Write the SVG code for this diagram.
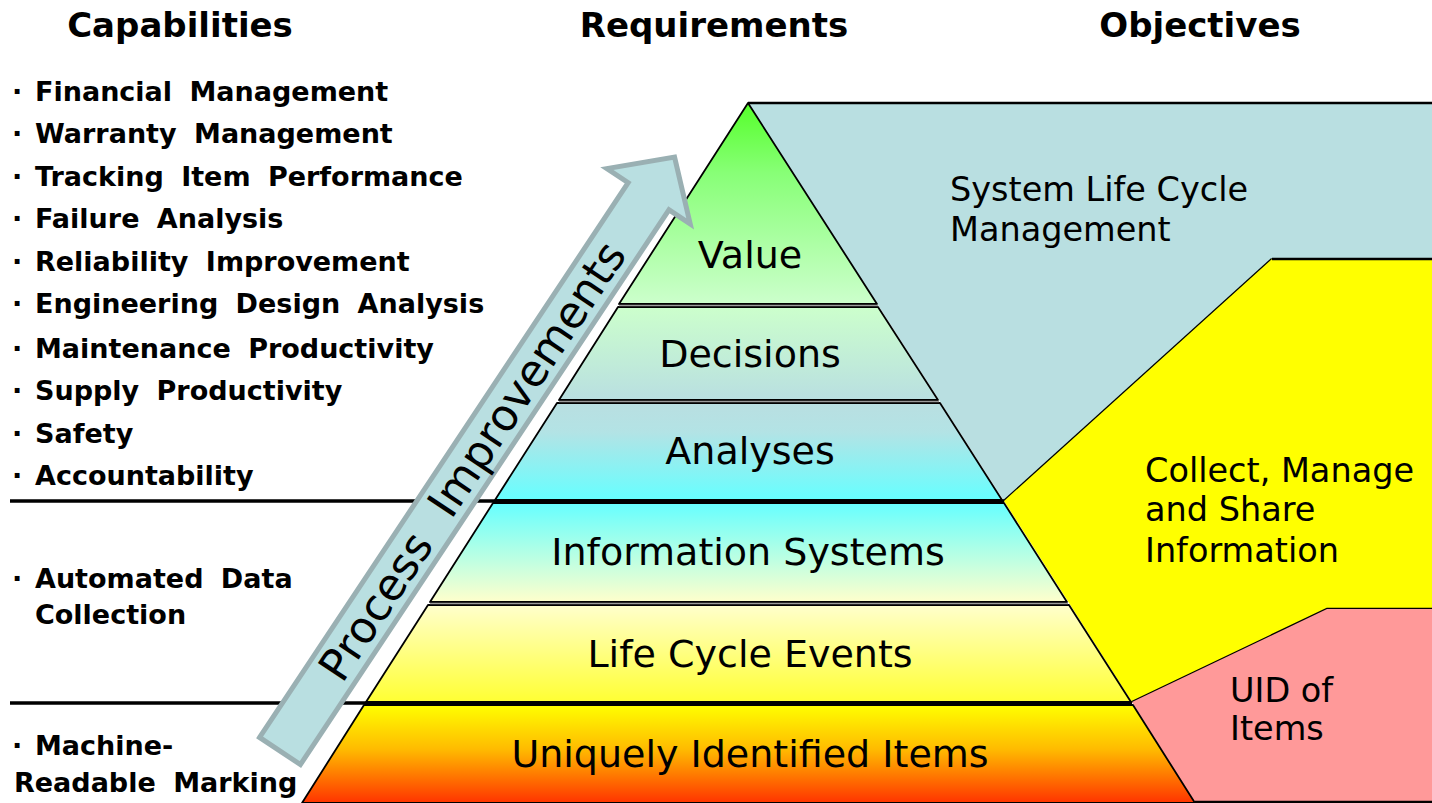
<svg xmlns="http://www.w3.org/2000/svg" width="1432" height="803" viewBox="0 0 1432 803">
<style>
.hdr{font-family:"DejaVu Sans",sans-serif;font-weight:bold;font-size:34px;fill:#000;text-anchor:middle}
.cap{font-family:"DejaVu Sans",sans-serif;font-weight:bold;font-size:27px;fill:#000;word-spacing:8px}
.lay{font-family:"DejaVu Sans",sans-serif;font-size:38px;fill:#000;text-anchor:middle}
.obj{font-family:"DejaVu Sans",sans-serif;font-size:33.5px;fill:#000}
.edge{stroke:#000;stroke-width:1.8;stroke-linejoin:round}
.rim{stroke:#000;stroke-width:2.4;fill:none}
.gap{stroke:#9a9a9a;stroke-width:1.5}
.thick{stroke:#000;stroke-width:3.5}
</style>
<defs>
<linearGradient id="gValue" x1="0" y1="0" x2="0" y2="1"><stop offset="0" stop-color="#55ff2a"/><stop offset="0.35" stop-color="#88ff77"/><stop offset="1" stop-color="#ccffcc"/></linearGradient>
<linearGradient id="gDec" x1="0" y1="0" x2="0" y2="1"><stop offset="0" stop-color="#ccffcc"/><stop offset="1" stop-color="#b9dfe1"/></linearGradient>
<linearGradient id="gAna" x1="0" y1="0" x2="0" y2="1"><stop offset="0" stop-color="#b9dfe1"/><stop offset="0.3" stop-color="#b3e3e5"/><stop offset="1" stop-color="#66ffff"/></linearGradient>
<linearGradient id="gInfo" x1="0" y1="0" x2="0" y2="1"><stop offset="0" stop-color="#66ffff"/><stop offset="1" stop-color="#ffffcc"/></linearGradient>
<linearGradient id="gLife" x1="0" y1="0" x2="0" y2="1"><stop offset="0" stop-color="#ffffcc"/><stop offset="1" stop-color="#ffff33"/></linearGradient>
<linearGradient id="gUID" x1="0" y1="0" x2="0" y2="1"><stop offset="0" stop-color="#ffff00"/><stop offset="0.45" stop-color="#ffbb00"/><stop offset="1" stop-color="#ff3300"/></linearGradient>
</defs>
<rect width="1432" height="803" fill="#fff"/>

<!-- headers -->
<g id="headers">
<text class="hdr" x="180" y="37">Capabilities</text>
<text class="hdr" x="714" y="37">Requirements</text>
<text class="hdr" x="1200" y="37">Objectives</text>
</g>

<!-- objective regions -->
<g id="obj-system">
<polygon points="748,103 1432,103 1432,259 1272,259 1004,501 748,103" fill="#b9dfe1"/>
<line class="rim" x1="748" y1="103" x2="1432" y2="103"/>
<line class="rim" x1="1272" y1="259" x2="1004" y2="501"/>
<text class="obj" x="950" y="201">System Life Cycle</text>
<text class="obj" x="950" y="241">Management</text>
</g>
<g id="obj-collect">
<polygon points="1004,501 1272,259 1432,259 1432,609 1327,609 1132,702" fill="#ffff00"/>
<line class="rim" x1="1272" y1="259" x2="1432" y2="259"/>
<polyline class="rim" points="1432,609 1327,609 1132,702"/>
<text class="obj" x="1145" y="482">Collect, Manage</text>
<text class="obj" x="1145" y="521">and Share</text>
<text class="obj" x="1145" y="562">Information</text>
</g>
<g id="obj-uid">
<polygon points="1132,702 1327,609 1432,609 1432,803 1195,803" fill="#ff9999"/>
<line class="rim" x1="1195" y1="802" x2="1432" y2="802"/>
<text class="obj" x="1230" y="702">UID of</text>
<text class="obj" x="1230" y="740">Items</text>
</g>

<!-- divider lines -->
<g id="dividers">
<line class="thick" x1="10" y1="501" x2="1004" y2="501"/>
<line class="thick" x1="10" y1="703" x2="1132" y2="703"/>
</g>

<!-- pyramid layers -->
<g id="layer-value">
<polygon class="edge" points="748,103 877,304 619,304" fill="url(#gValue)"/>
<text class="lay" x="750" y="268">Value</text>
</g>
<g id="layer-decisions">
<polygon class="edge" points="618,307 878,307 938,400 559,400" fill="url(#gDec)"/>
<text class="lay" x="750" y="367">Decisions</text>
</g>
<g id="layer-analyses">
<polygon class="edge" points="557,403 940,403 1002,500 495,500" fill="url(#gAna)"/>
<text class="lay" x="750" y="464">Analyses</text>
</g>
<g id="layer-info">
<polygon class="edge" points="493,503 1004,503 1067,602 430,602" fill="url(#gInfo)"/>
<text class="lay" x="748" y="565">Information Systems</text>
</g>
<g id="layer-life">
<polygon class="edge" points="428,605 1069,605 1131,702 366,702" fill="url(#gLife)"/>
<text class="lay" x="750" y="667">Life Cycle Events</text>
</g>
<g id="layer-uid">
<polygon class="edge" points="364,705 1133,705 1195,803 302,803" fill="url(#gUID)"/>
<text class="lay" x="750" y="767">Uniquely Identified Items</text>
</g>
<g id="layer-gaps">
<line class="gap" x1="619" y1="305.5" x2="878" y2="305.5"/>
<line class="gap" x1="559" y1="401.5" x2="939" y2="401.5"/>
<line class="gap" x1="430" y1="603.5" x2="1068" y2="603.5"/>
</g>

<!-- capabilities -->
<g id="capabilities">
<text class="cap" y="101"><tspan x="12">·</tspan><tspan x="35">Financial Management</tspan></text>
<text class="cap" y="143"><tspan x="12">·</tspan><tspan x="35">Warranty Management</tspan></text>
<text class="cap" y="186"><tspan x="12">·</tspan><tspan x="35">Tracking Item Performance</tspan></text>
<text class="cap" y="228"><tspan x="12">·</tspan><tspan x="35">Failure Analysis</tspan></text>
<text class="cap" y="271"><tspan x="12">·</tspan><tspan x="35">Reliability Improvement</tspan></text>
<text class="cap" y="313"><tspan x="12">·</tspan><tspan x="35">Engineering Design Analysis</tspan></text>
<text class="cap" y="358"><tspan x="12">·</tspan><tspan x="35">Maintenance Productivity</tspan></text>
<text class="cap" y="400"><tspan x="12">·</tspan><tspan x="35">Supply Productivity</tspan></text>
<text class="cap" y="443"><tspan x="12">·</tspan><tspan x="35">Safety</tspan></text>
<text class="cap" y="485"><tspan x="12">·</tspan><tspan x="35">Accountability</tspan></text>
<text class="cap" y="588"><tspan x="12">·</tspan><tspan x="35">Automated Data</tspan></text>
<text class="cap" x="35" y="624">Collection</text>
<text class="cap" y="755"><tspan x="12">·</tspan><tspan x="35">Machine-</tspan></text>
<text class="cap" x="14" y="792">Readable Marking</text>
</g>

<!-- process improvements arrow -->
<g id="arrow" transform="translate(280,751) rotate(-56.4)">
<path d="M0,-24.5 L666,-24.5 L666,-50 L713,0 L666,50 L666,24.5 L0,24.5 Z" fill="#b9dfe1" stroke="#9ab0b3" stroke-width="5" stroke-linejoin="miter"/>
<text x="348" y="15" text-anchor="middle" font-family="DejaVu Sans, sans-serif" font-size="44" word-spacing="16" fill="#000">Process Improvements</text>
</g>
</svg>
